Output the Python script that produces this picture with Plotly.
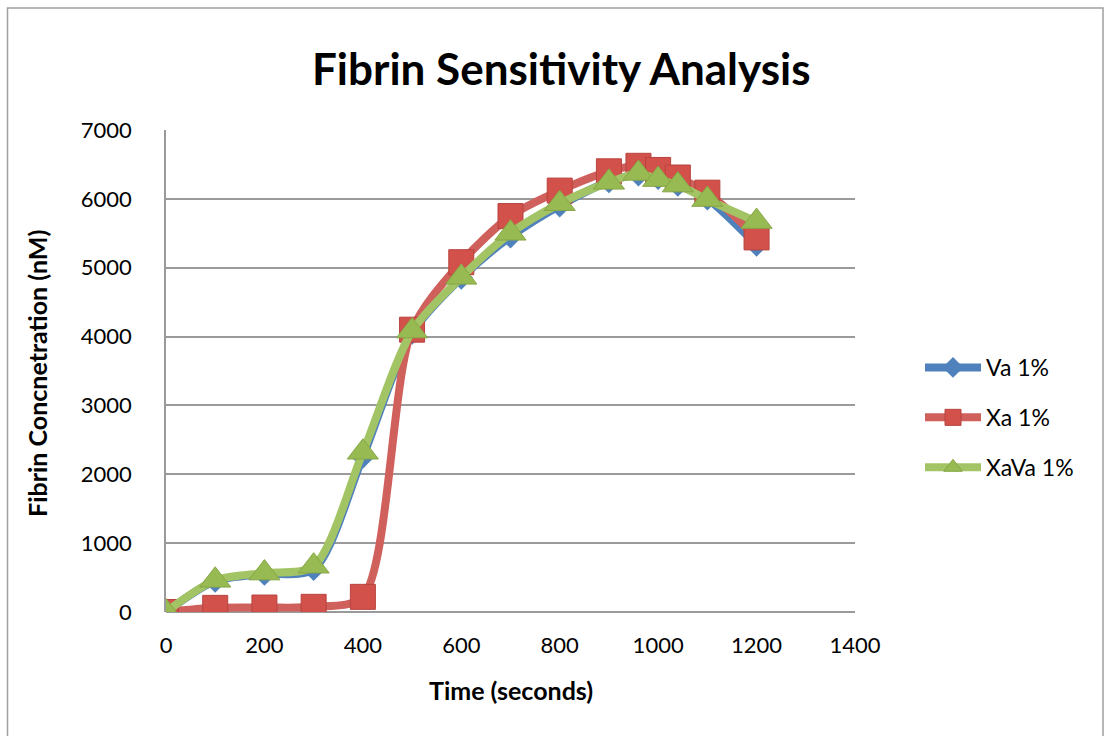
import plotly.graph_objects as go

time_s = [0, 100, 200, 300, 400, 500, 600, 700, 800, 900, 960, 1000, 1040, 1100, 1200]
va_1 = [0, 450, 550, 620, 2250, 4050, 4850, 5450, 5900, 6250, 6350, 6300, 6200, 6000, 5330]
xa_1 = [0, 60, 65, 75, 220, 4100, 5080, 5750, 6120, 6400, 6480, 6420, 6310, 6090, 5440]
xava_1 = [0, 460, 565, 665, 2320, 4080, 4860, 5500, 5930, 6240, 6370, 6280, 6200, 5990, 5670]

x_ticks = [0, 200, 400, 600, 800, 1000, 1200, 1400]
y_ticks = [0, 1000, 2000, 3000, 4000, 5000, 6000, 7000]

FONT = "Lato, 'Open Sans', sans-serif"

fig = go.Figure()
fig.add_trace(go.Scatter(
    x=time_s, y=va_1, name="Va 1%", mode="lines+markers", legendgroup="a",
    line=dict(color="#4F81BD", width=8, shape="spline", smoothing=0.8),
    marker=dict(symbol="diamond", size=18, color="#4F81BD"),
))
fig.add_trace(go.Scatter(
    x=time_s, y=xa_1, name="Xa 1%", mode="lines+markers", legendgroup="b",
    line=dict(color="#CF605C", width=8, shape="spline", smoothing=0.8),
    marker=dict(symbol="square", size=25, color="#D2514B",
                line=dict(color="#B8433E", width=1)),
))
fig.add_trace(go.Scatter(
    x=time_s, y=xava_1, name="XaVa 1%", mode="lines+markers", legendgroup="c",
    line=dict(color="#A3C464", width=8, shape="spline", smoothing=0.8),
    marker=dict(symbol="triangle-up", size=27, color="#98BA52",
                line=dict(color="#86A646", width=1)),
))

L, R, T, B = 166, 250, 130, 124
W, H = 1105, 736
pw, ph = W - L - R, H - T - B

def px(xp):
    return (xp - L) / pw

def py(yp):
    return (H - B - yp) / ph

fig.update_layout(
    width=W, height=H,
    margin=dict(l=L, r=R, t=T, b=B),
    paper_bgcolor="white", plot_bgcolor="white",
    font=dict(family=FONT, size=22, color="black"),
    showlegend=True,
    legend=dict(x=px(920), y=py(346), xanchor="left", yanchor="top",
                font=dict(size=23), tracegroupgap=17, itemwidth=56,
                bgcolor="rgba(0,0,0,0)"),
    xaxis=dict(range=[0, 1400], tickvals=x_ticks, showgrid=False, zeroline=False,
               showline=False, ticks="", ticklabelstandoff=18,
               tickfont=dict(size=22)),
    yaxis=dict(range=[0, 7000], tickvals=y_ticks, showgrid=True, gridcolor="#9A9A9A",
               gridwidth=1.5, zeroline=True, zerolinecolor="#9A9A9A", zerolinewidth=1.5,
               showline=True, linecolor="#9A9A9A", linewidth=1.5, ticks="",
               ticklabelstandoff=28, tickfont=dict(size=22)),
    shapes=[
        dict(type="rect", xref="paper", yref="paper",
             x0=px(7.5), x1=px(1103), y0=py(760), y1=py(8),
             line=dict(color="#A0A0A0", width=1.5), layer="below"),
    ],
    annotations=[
        dict(text="<b>Fibrin Sensitivity Analysis</b>", xref="paper", yref="paper",
             x=px(561), y=py(68), xanchor="center", yanchor="middle", showarrow=False,
             font=dict(size=44, family=FONT)),
        dict(text="<b>Time (seconds)</b>", xref="paper", yref="paper",
             x=px(511), y=py(690), xanchor="center", yanchor="middle", showarrow=False,
             font=dict(size=25, family=FONT)),
        dict(text="<b>Fibrin Concnetration (nM)</b>", xref="paper", yref="paper",
             x=px(37), y=py(374), xanchor="center", yanchor="middle", showarrow=False,
             textangle=-90, font=dict(size=25, family=FONT)),
    ],
)

fig.write_html("out.html")
